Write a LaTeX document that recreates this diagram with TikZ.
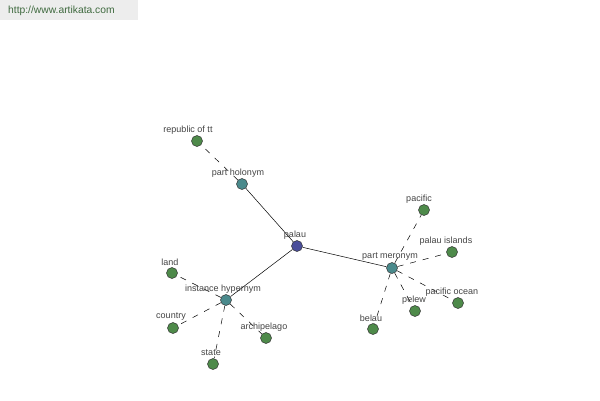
\documentclass[tikz,border=0pt]{standalone}
\usepackage{fontspec}
\setmainfont{Liberation Sans}
\definecolor{leafc}{HTML}{4E8A4A}
\definecolor{midc}{HTML}{4A8A8C}
\definecolor{rootc}{HTML}{4A4E9A}
\definecolor{txtc}{HTML}{444444}
\definecolor{hdrc}{HTML}{3F6A3F}
\begin{document}
\begin{tikzpicture}[x=1pt,y=-1pt,
  dot/.style={circle,draw=black!80,line width=0.5pt,minimum size=11pt,inner sep=0pt},
  leaf/.style={dot,fill=leafc},
  mid/.style={dot,fill=midc},
  root/.style={dot,fill=rootc},
  lbl/.style={font=\fontsize{9}{11}\selectfont,text=txtc,inner sep=0pt},
  solidc/.style={line width=0.5pt,black},
  dashc/.style={line width=0.5pt,black,dash pattern=on 6pt off 7pt}]
\fill[white] (0,0) rectangle (600,400);
\useasboundingbox (0,0) rectangle (600,400);
\fill[black!7] (0,0) rectangle (138,20);
\node[font=\fontsize{10.3}{12}\selectfont,text=hdrc,anchor=west,inner sep=0pt] (hdr) at (8,11) {http://www.artikata.com};

\node[root] (palau) at (297,246) {};
\node[mid] (hol) at (242,184) {};
\node[leaf] (rep) at (197,141) {};
\node[mid] (mer) at (392,268) {};
\node[leaf] (pac) at (424,210) {};
\node[leaf] (pis) at (452,252) {};
\node[leaf] (poc) at (458,303) {};
\node[leaf] (pel) at (415,311) {};
\node[leaf] (bel) at (373,329) {};
\node[mid] (hyp) at (226,300) {};
\node[leaf] (land) at (172,273) {};
\node[leaf] (cty) at (173,328) {};
\node[leaf] (arc) at (266,338) {};
\node[leaf] (sta) at (213,364) {};

\draw[solidc] (palau) -- (hol);
\draw[solidc] (palau) -- (mer);
\draw[solidc] (palau) -- (hyp);
\draw[dashc] (hol) -- (rep);
\draw[dashc] (mer) -- (pac);
\draw[dashc] (mer) -- (pis);
\draw[dashc] (mer) -- (poc);
\draw[dashc] (mer) -- (pel);
\draw[dashc] (mer) -- (bel);
\draw[dashc] (hyp) -- (land);
\draw[dashc] (hyp) -- (cty);
\draw[dashc] (hyp) -- (arc);
\draw[dashc] (hyp) -- (sta);

\node[lbl] (lpalau) at (295,235) {palau};
\node[lbl] (lhol) at (238,173) {part holonym};
\node[lbl] (lrep) at (188,130) {republic of tt};
\node[lbl] (lmer) at (390,257) {part meronym};
\node[lbl] (lpac) at (419,199) {pacific};
\node[lbl] (lpis) at (446,241) {palau islands};
\node[lbl] (lpoc) at (452,292) {pacific ocean};
\node[lbl] (lpel) at (414,300) {pelew};
\node[lbl] (lbel) at (371,318) {belau};
\node[lbl] (lhyp) at (223,289) {instance hypernym};
\node[lbl] (lland) at (170,262) {land};
\node[lbl] (lcty) at (171,317) {country};
\node[lbl] (larc) at (264,327) {archipelago};
\node[lbl] (lsta) at (211,353) {state};
\end{tikzpicture}
\end{document}
